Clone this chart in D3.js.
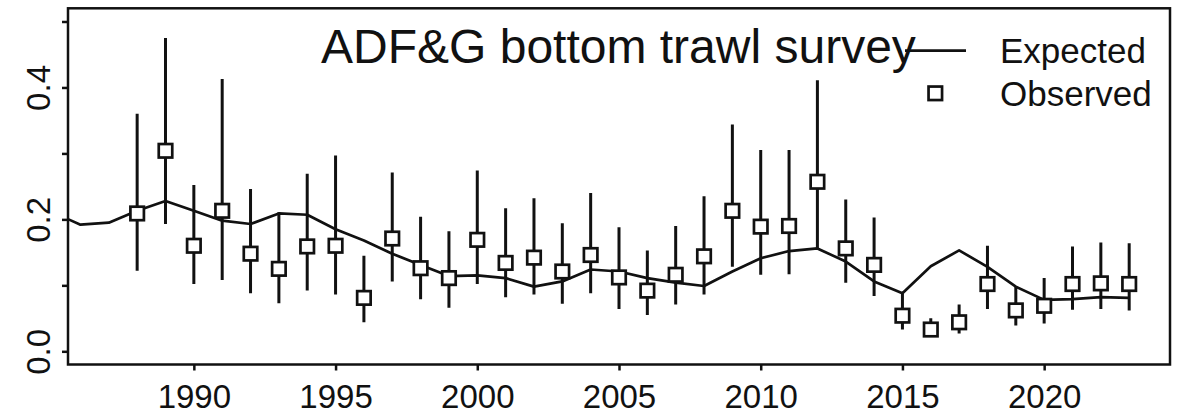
<!DOCTYPE html>
<html>
<head>
<meta charset="utf-8">
<script src="https://cdn.jsdelivr.net/npm/d3@7"></script>
<style>
  html, body { margin: 0; padding: 0; background: #fff; }
  svg { display: block; font-family: "Liberation Sans", Arial, sans-serif; }
</style>
</head>
<body>
<svg id="chart" width="1183" height="415"></svg>
<script>
// ---- data ----
const obsYears = [1988,1989,1990,1991,1992,1993,1994,1995,1996,1997,1998,1999,2000,2001,2002,2003,2004,2005,2006,2007,2008,2009,2010,2011,2012,2013,2014,2015,2016,2017,2018,2019,2020,2021,2022,2023];
const observed = [0.209,0.304,0.160,0.213,0.148,0.125,0.159,0.160,0.081,0.171,0.126,0.111,0.169,0.134,0.142,0.121,0.146,0.112,0.092,0.116,0.144,0.213,0.189,0.190,0.257,0.156,0.131,0.054,0.033,0.044,0.102,0.062,0.069,0.102,0.103,0.102];
const upper =    [0.360,0.475,0.252,0.413,0.246,0.211,0.269,0.297,0.145,0.271,0.204,0.182,0.274,0.217,0.232,0.194,0.240,0.188,0.153,0.190,0.235,0.344,0.305,0.305,0.411,0.230,0.203,0.088,0.050,0.071,0.160,0.099,0.111,0.159,0.165,0.164];
const lower =    [0.122,0.193,0.102,0.108,0.088,0.073,0.092,0.086,0.044,0.106,0.079,0.066,0.102,0.082,0.086,0.072,0.088,0.064,0.055,0.071,0.086,0.128,0.116,0.117,0.156,0.104,0.084,0.033,0.022,0.027,0.064,0.039,0.042,0.063,0.064,0.062];
const expYears = [1985,1986,1987,1988,1989,1990,1991,1992,1993,1994,1995,1996,1997,1998,1999,2000,2001,2002,2003,2004,2005,2006,2007,2008,2009,2010,2011,2012,2013,2014,2015,2016,2017,2018,2019,2020,2021,2022,2023];
const expected = [0.211,0.192,0.195,0.213,0.228,0.213,0.198,0.193,0.209,0.207,0.185,0.168,0.148,0.131,0.114,0.115,0.111,0.098,0.106,0.124,0.121,0.111,0.104,0.099,0.121,0.141,0.152,0.156,0.136,0.106,0.088,0.129,0.153,0.128,0.098,0.078,0.079,0.082,0.081];
const xTicks = [1990,1995,2000,2005,2010,2015,2020];
const yTicks = [0,0.1,0.2,0.3,0.4,0.5];
const yTickLabels = ["0.0","","0.2","","0.4",""];
const titleText = "ADF&G bottom trawl survey";
const legendLabels = ["Expected","Observed"];

// ---- layout ----
const L = 68, R = 1170, T = 8.3, B = 364.5;
const svg = d3.select("#chart");
const x = d3.scaleLinear().domain([1985.56, 2024.44]).range([L, R]);
const y = d3.scaleLinear().domain([-0.02, 0.52]).range([B, T]);

svg.append("defs").append("clipPath").attr("id","clip")
  .append("rect").attr("x", L).attr("y", T).attr("width", R - L).attr("height", B - T);

const plot = svg.append("g").attr("clip-path","url(#clip)");

// error bars
plot.selectAll("line.err").data(obsYears).join("line")
  .attr("class","err")
  .attr("x1", d => x(d)).attr("x2", d => x(d))
  .attr("y1", (d,i) => y(upper[i])).attr("y2", (d,i) => y(lower[i]))
  .attr("stroke","#111").attr("stroke-width",3);

// expected line
const line = d3.line().x((d,i) => x(expYears[i])).y(d => y(d));
plot.append("path").datum(expected)
  .attr("d", line).attr("fill","none")
  .attr("stroke","#111").attr("stroke-width",2.7).attr("stroke-linejoin","round");

// observed squares
const S = 13.5;
plot.selectAll("rect.obs").data(observed).join("rect")
  .attr("class","obs")
  .attr("x", (d,i) => x(obsYears[i]) - S/2).attr("y", d => y(d) - S/2)
  .attr("width", S).attr("height", S)
  .attr("fill","#fff").attr("stroke","#111").attr("stroke-width",2.7);

// axes
const xAxis = d3.axisBottom(x).tickValues(xTicks).tickSize(6).tickPadding(14).tickFormat(d3.format("d"));
const gx = svg.append("g").attr("transform", `translate(0,${B})`).call(xAxis);
gx.select(".domain").remove();
gx.selectAll(".tick line").attr("stroke","#111").attr("stroke-width",2.5);
gx.selectAll(".tick text").attr("font-size",33).attr("fill","#111")
  .attr("font-family","'Liberation Sans', Arial, sans-serif");

const yAxis = d3.axisLeft(y).tickValues(yTicks).tickSize(6).tickFormat((d,i) => yTickLabels[i]);
const gy = svg.append("g").attr("transform", `translate(${L},0)`).call(yAxis);
gy.select(".domain").remove();
gy.selectAll(".tick line").attr("stroke","#111").attr("stroke-width",2.5);
gy.selectAll(".tick text")
  .attr("font-size",33).attr("fill","#111")
  .attr("font-family","'Liberation Sans', Arial, sans-serif")
  .attr("text-anchor","middle")
  .attr("dy",0)
  .attr("x",0)
  .attr("transform","translate(-18,0) rotate(-90)");

// box
svg.append("rect").attr("x", L).attr("y", T).attr("width", R - L).attr("height", B - T)
  .attr("fill","none").attr("stroke","#111").attr("stroke-width",2.5);

// title
svg.append("text").attr("x", 321).attr("y", 63.3)
  .attr("font-size",48).attr("fill","#111").text(titleText);

// legend
svg.append("line").attr("x1",905).attr("x2",966).attr("y1",50.7).attr("y2",50.7)
  .attr("stroke","#111").attr("stroke-width",2.7);
svg.append("rect").attr("x",935.3 - S/2).attr("y",93.3 - S/2).attr("width",S).attr("height",S)
  .attr("fill","#fff").attr("stroke","#111").attr("stroke-width",2.7);
svg.selectAll("text.leg").data(legendLabels).join("text")
  .attr("class","leg")
  .attr("x",1000).attr("y",(d,i) => i === 0 ? 63.3 : 106)
  .attr("font-size",35).attr("fill","#111").text(d => d);
</script>
</body>
</html>
